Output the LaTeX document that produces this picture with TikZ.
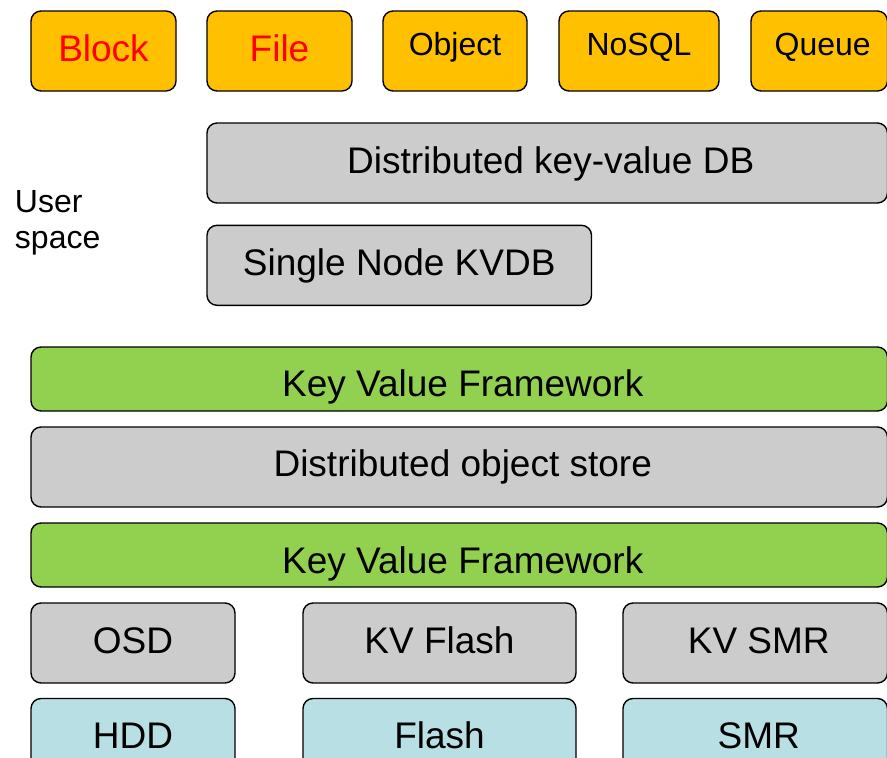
\documentclass[tikz,border=0pt]{standalone}
\usepackage{fontspec}
\setmainfont{Liberation Sans}
\definecolor{boxorange}{HTML}{FFC000}
\definecolor{boxgray}{HTML}{CCCCCC}
\definecolor{boxgreen}{HTML}{92D050}
\definecolor{boxblue}{HTML}{B8DFE3}
\definecolor{labelred}{HTML}{FF0000}
\newcommand{\bigtxt}{\fontsize{37pt}{44pt}\selectfont}
\newcommand{\midtxt}{\fontsize{32pt}{38pt}\selectfont}
% boxes running to the right edge keep their text a little right of centre
\newcommand{\padl}{\hspace*{7pt}}
\begin{document}
\begin{tikzpicture}[x=1pt,y=-1pt,
  layer/.style={draw=black, line width=1.4pt, rounded corners=10pt,
    inner sep=0pt, outer sep=0pt, anchor=north west, font=\bigtxt},
  % caps raised above the box centre by half the given depth
  raise/.style={text height=26.5pt, text depth=#1},
  % caps lowered below the box centre
  lower/.style={text height=#1, text depth=0pt},
  service/.style={layer, fill=boxorange, minimum height=80pt},
  gray/.style={layer, fill=boxgray, minimum height=80pt},
  framework/.style={layer, fill=boxgreen, minimum height=64pt},
  device/.style={layer, fill=boxblue, minimum height=80pt},
  side/.style={inner sep=0pt, outer sep=0pt, anchor=base west, font=\midtxt}
]
\useasboundingbox (0,0) rectangle (887,758);

% top row: storage services
\node[service, minimum width=145pt, text=labelred, raise=6pt] (block) at (31,11) {Block};
\node[service, minimum width=145pt, text=labelred, raise=6pt] (file) at (207,11) {File};
\node[service, minimum width=144pt, font=\midtxt, text height=22.9pt, text depth=14.4pt] (object) at (383,11) {Object};
\node[service, minimum width=160pt, font=\midtxt, text height=22.9pt, text depth=14.4pt] (nosql) at (559,11) {NoSQL};
\node[service, minimum width=136.5pt, font=\midtxt, text height=22.9pt, text depth=14.4pt] (queue) at (751,11) {\padl Queue};

% user-space databases
\node[side] (user) at (15,212) {User};
\node[side] (space) at (15,248) {space};
\node[gray, minimum width=680.5pt, raise=6.2pt] (dkvdb) at (207,123) {\padl Distributed key-value DB};
\node[gray, minimum width=384.5pt, raise=7pt] (snkvdb) at (207,225.3) {Single Node KVDB};

% framework and object store stack
\node[framework, minimum width=856.5pt, lower=34pt] (kvf1) at (31,347) {\padl Key Value Framework};
\node[gray, minimum width=856.5pt, raise=8.5pt] (dos) at (31,427) {\padl Distributed object store};
\node[framework, minimum width=856.5pt, lower=36pt] (kvf2) at (31,523) {\padl Key Value Framework};

% back ends
\node[gray, minimum width=204pt, raise=5.4pt] (osd) at (31,603) {OSD};
\node[gray, minimum width=273pt, raise=5.4pt] (kvflash) at (303,603) {KV Flash};
\node[gray, minimum width=264.5pt, raise=5.4pt] (kvsmr) at (623,603) {\padl KV SMR};

% media
\node[device, minimum width=204pt, raise=7.5pt] (hdd) at (31,698.5) {HDD};
\node[device, minimum width=273pt, raise=7.5pt] (flash) at (303,698.5) {Flash};
\node[device, minimum width=264.5pt, raise=7.5pt] (smr) at (623,698.5) {\padl SMR};
\end{tikzpicture}
\end{document}
